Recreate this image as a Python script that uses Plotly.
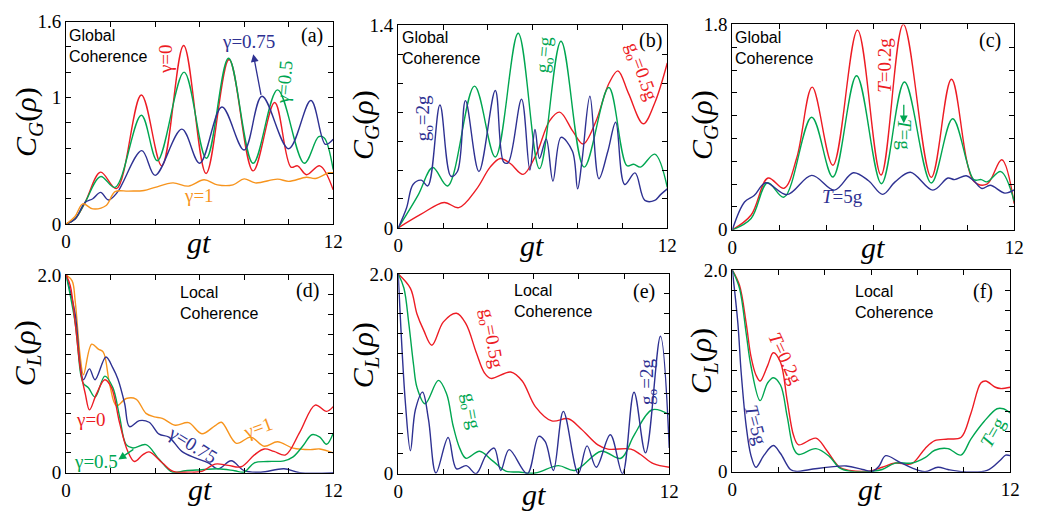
import plotly.graph_objects as go

RED = "#ED1C24"
GREEN = "#00A651"
BLUE = "#2E3192"
ORANGE = "#F7941D"

# ---------------- data ----------------
# (a) global coherence, gamma
a_red_x = [0, 0.4, 0.85, 1.55, 2.26, 3.38, 4.3, 5.28, 6.29, 7.32, 8.4, 9.37, 10.1, 10.4, 10.8, 11.4, 12]
a_red_y = [0, 0.04, 0.17, 0.41, 0.28, 1.02, 0.46, 1.41, 0.40, 1.30, 0.42, 0.96, 0.45, 0.46, 0.39, 0.46, 0.27]
a_green_x = [0, 0.4, 0.85, 1.55, 2.2, 3.38, 4.1, 5.3, 6.3, 7.3, 8.4, 9.5, 10.7, 11.35, 11.6, 12]
a_green_y = [0, 0.04, 0.17, 0.375, 0.29, 0.86, 0.50, 1.20, 0.52, 1.31, 0.48, 1.06, 0.48, 0.69, 0.68, 0.43]
a_blue_x = [0, 0.4, 0.85, 1.2, 1.55, 1.9, 2.3, 3.4, 4.0, 5.2, 6.0, 7.0, 8.0, 8.8, 10.0, 11.0, 11.65, 12]
a_blue_y = [0, 0.04, 0.17, 0.20, 0.25, 0.19, 0.25, 0.58, 0.385, 0.75, 0.48, 0.925, 0.585, 1.01, 0.595, 0.976, 0.63, 0.67]
a_orange_x = [0, 0.4, 0.75, 1.2, 1.8, 2.2, 2.8, 3.5, 4.0, 4.8, 5.5, 6.2, 6.8, 7.5, 8.0, 8.5, 9.5, 10.0, 10.8, 11.2, 11.8, 12]
a_orange_y = [0, 0.06, 0.16, 0.12, 0.147, 0.256, 0.26, 0.265, 0.29, 0.325, 0.30, 0.35, 0.31, 0.31, 0.357, 0.325, 0.355, 0.337, 0.37, 0.36, 0.405, 0.405]

# (b) global coherence, g_o
b_red_x = [0, 1.0, 2.05, 2.7, 3.5, 4.1, 4.55, 5.0, 5.57, 6.16, 6.75, 7.2, 7.8, 8.25, 8.8, 9.4, 9.8, 10.27, 10.93, 11.44, 12]
b_red_y = [0, 0.093, 0.176, 0.14, 0.27, 0.42, 0.48, 0.445, 0.37, 0.51, 0.74, 0.80, 0.665, 0.58, 0.73, 1.0, 1.085, 0.93, 0.72, 0.864, 1.14]
b_green_x = [0, 0.88, 1.54, 2.2, 3.4, 4.33, 5.35, 6.3, 7.26, 8.29, 9.39, 10.2, 10.5, 10.8, 11.44, 12]
b_green_y = [0, 0.225, 0.417, 0.29, 0.98, 0.49, 1.345, 0.41, 1.29, 0.42, 0.97, 0.43, 0.44, 0.42, 0.51, 0.28]
b_blue_x = [0, 0.37, 0.66, 1.03, 1.32, 1.86, 2.35, 2.64, 3.0, 3.6, 4.33, 4.7, 4.9, 5.5, 5.87, 6.1, 6.3, 6.6,
            6.9, 7.26, 7.77, 8.0, 8.2, 8.55, 8.95, 9.35, 9.7, 10.1, 10.56, 11.0, 11.44, 11.7, 12]
b_blue_y = [0, 0.137, 0.30, 0.33, 0.29, 0.85, 0.357, 0.39, 0.88, 0.39, 0.95, 0.456, 0.45, 0.89, 0.40, 0.68, 0.48, 0.615,
            0.324, 0.626, 0.53, 0.27, 0.47, 0.91, 0.34, 0.53, 0.73, 0.30, 0.38, 0.19, 0.19, 0.23, 0.27]

# (c) global coherence, T
c_red_x = [0, 0.8, 1.52, 2.2, 2.75, 3.4, 4.28, 5.33, 6.33, 7.28, 8.47, 9.33, 10.28, 10.84, 11.47, 12]
c_red_y = [0, 0.13, 0.454, 0.364, 0.636, 1.25, 0.566, 1.75, 0.48, 1.80, 0.46, 1.32, 0.426, 0.40, 0.614, 0.23]
c_green_x = [0, 0.8, 1.5, 2.2, 3.38, 4.28, 5.29, 6.35, 7.33, 8.47, 9.38, 10.28, 10.6, 10.84, 11.43, 12]
c_green_y = [0, 0.10, 0.412, 0.286, 0.987, 0.463, 1.35, 0.404, 1.295, 0.41, 0.973, 0.44, 0.44, 0.42, 0.51, 0.25]
c_blue_x = [0, 0.52, 0.93, 1.42, 2.33, 3.38, 4.35, 5.15, 5.8, 6.4, 6.93, 7.58, 8.54, 9.18, 9.46, 9.96, 10.28, 10.63, 10.98, 11.6, 12]
c_blue_y = [0, 0.244, 0.30, 0.412, 0.308, 0.477, 0.348, 0.50, 0.43, 0.311, 0.42, 0.505, 0.348, 0.454, 0.44, 0.474, 0.43, 0.362, 0.39, 0.322, 0.35]

# (d) local coherence, gamma
d_red_x = [0, 0.19, 0.41, 0.66, 0.86, 1.05, 1.37, 1.74, 2.04, 2.4, 2.77, 3.07, 3.44, 3.73, 4.32, 4.81, 5.5, 6.1,
           6.69, 7.28, 7.87, 8.46, 8.9, 9.34, 9.86, 10.5, 11.19, 11.7, 12]
d_red_y = [2.0, 1.89, 1.51, 1.02, 0.80, 0.635, 0.80, 0.94, 0.86, 0.506, 0.216, 0.113, 0.18, 0.21, 0.10, 0.013, 0.006, 0.013,
           0.087, 0.074, 0.06, 0.18, 0.24, 0.216, 0.18, 0.41, 0.684, 0.62, 0.668]
d_green_x = [0, 0.41, 0.66, 0.78, 1.0, 1.3, 1.74, 2.1, 2.4, 2.7, 3.0, 3.59, 4.18, 4.77, 5.36, 6.1, 6.83, 7.57, 8.0,
             8.46, 9.05, 9.79, 10.2, 10.67, 11.04, 11.4, 11.7, 12]
d_green_y = [2.0, 1.51, 0.99, 0.90, 0.86, 0.765, 0.977, 0.86, 0.57, 0.284, 0.25, 0.284, 0.135, 0.006, 0.02, 0.03, 0.04, 0.02, 0.006,
             0.10, 0.113, 0.12, 0.16, 0.28, 0.384, 0.36, 0.287, 0.40]
d_blue_x = [0, 0.41, 0.63, 0.78, 1.05, 1.3, 1.79, 2.1, 2.33, 2.63, 2.85, 3.29, 3.73, 4.18, 4.62, 5.2, 5.8, 6.39, 6.83,
            7.42, 8.0, 8.75, 9.79, 10.5, 12]
d_blue_y = [2.0, 1.60, 1.09, 0.94, 1.05, 0.94, 1.17, 1.06, 0.945, 0.70, 0.465, 0.526, 0.51, 0.39, 0.36, 0.216, 0.15, 0.10, 0.039,
            0.12, 0.02, 0.005, 0.04, 0.0, 0.0]
d_orange_x = [0, 0.27, 0.41, 0.63, 0.78, 1.15, 1.45, 1.67, 1.96, 2.26, 2.7, 3.14, 3.59, 3.96, 4.32, 4.9, 5.5, 6.1, 6.7,
              6.98, 7.65, 8.3, 8.9, 9.5, 10.2, 10.97, 11.4, 12]
d_orange_y = [2.0, 1.94, 1.73, 1.18, 0.99, 1.30, 1.25, 1.22, 0.89, 0.677, 0.75, 0.745, 0.60, 0.565, 0.55, 0.48, 0.506, 0.394, 0.477,
              0.51, 0.297, 0.36, 0.268, 0.313, 0.248, 0.233, 0.24, 0.20]

# (e) local coherence, g_o
e_red_x = [0, 0.54, 0.83, 1.12, 1.49, 2.0, 2.58, 3.0, 3.45, 3.82, 4.1, 4.98, 5.49, 6.07, 6.8, 7.53, 8.1, 8.84, 9.28,
           10.3, 10.73, 11.3, 12]
e_red_y = [2.0, 1.856, 1.60, 1.44, 1.286, 1.52, 1.606, 1.50, 1.216, 1.008, 0.954, 1.018, 0.928, 0.672, 0.528, 0.55, 0.448, 0.288, 0.246,
           0.246, 0.192, 0.10, 0.064]
e_green_x = [0, 0.25, 0.47, 0.68, 0.83, 1.19, 1.78, 2.14, 2.43, 2.72, 3.0, 3.6, 4.18, 4.76, 5.34, 6.07, 7.09, 7.82,
             8.99, 9.86, 10.44, 11.24, 12]
e_green_y = [2.0, 1.86, 1.50, 1.088, 0.864, 0.70, 0.934, 0.80, 0.48, 0.256, 0.154, 0.224, 0.128, 0.026, 0.016, 0.006, 0.08, 0.032,
             0.224, 0.154, 0.384, 0.64, 0.592]
e_blue_x = [0, 0.32, 0.54, 0.76, 1.08, 1.34, 1.67, 2.21, 2.58, 3.01, 3.45, 3.89, 4.25, 4.54, 4.91, 5.71, 6.22, 6.51,
            6.87, 7.31, 7.97, 8.36, 8.77, 9.39, 9.93, 10.44, 10.95, 11.61, 12]
e_blue_y = [2.0, 0.70, 0.23, 0.64, 0.816, 0.544, 0.006, 0.362, 0.048, 0.08, 0.0, 0.186, 0.256, 0.032, 0.24, 0.0, 0.374, 0.32,
            0.032, 0.624, 0.0, 0.278, 0.064, 0.39, 0.0, 0.816, 0.208, 1.376, 0.256]

# (f) local coherence, T
f_red_x = [0, 0.31, 0.6, 0.8, 1.02, 1.2, 1.52, 1.77, 2.08, 2.37, 2.65, 2.86, 3.61, 4.07, 4.63, 5.06, 5.9, 6.47, 7.04,
           7.75, 8.32, 8.74, 9.31, 9.87, 10.3, 10.73, 10.94, 11.36, 11.58, 12]
f_red_y = [2.0, 1.85, 1.47, 1.15, 0.96, 0.90, 1.05, 1.18, 1.086, 0.705, 0.356, 0.267, 0.333, 0.213, 0.044, 0.013, 0.006, 0.044, 0.086,
           0.08, 0.229, 0.308, 0.324, 0.34, 0.578, 0.88, 0.90, 0.838, 0.825, 0.838]
f_green_x = [0, 0.31, 0.6, 0.8, 1.2, 1.52, 1.77, 2.08, 2.37, 2.65, 2.86, 3.61, 4.2, 4.63, 5.06, 5.9, 6.47, 7.04, 7.75,
             8.32, 8.74, 9.31, 9.87, 10.3, 10.87, 11.43, 11.7, 12]
f_green_y = [2.0, 1.82, 1.37, 1.054, 0.705, 0.88, 0.933, 0.86, 0.546, 0.229, 0.171, 0.229, 0.149, 0.038, 0.006, 0.0, 0.022, 0.086, 0.086,
             0.14, 0.213, 0.229, 0.165, 0.324, 0.498, 0.625, 0.625, 0.584]
f_blue_x = [0, 0.24, 0.38, 0.6, 0.8, 1.02, 1.37, 1.77, 2.08, 2.51, 2.79, 3.36, 4.92, 5.62, 6.07, 6.33, 6.62, 7.18,
            7.75, 8.32, 8.88, 9.31, 10.0, 11.0, 11.58, 11.8, 12]
f_blue_y = [2.0, 1.47, 0.99, 0.45, 0.165, 0.044, 0.165, 0.26, 0.181, 0.022, 0.003, 0.022, 0.057, 0.022, 0.006, 0.054, 0.159, 0.10,
            0.038, 0.0, 0.044, 0.022, 0.0, 0.013, 0.117, 0.165, 0.159]

# tick labels
x_tick_vals = [0, 2, 4, 6, 8, 10, 12]
x_tick_text = ["0", " ", " ", " ", " ", " ", "12"]
y_max = {"a": 1.6, "b": 1.4, "c": 1.8, "d": 2.0, "e": 2.0, "f": 2.0}
y_labels = {"a": {0: "0", 1.0: "1", 1.6: "1.6"}, "b": {0: "0", 1.4: "1.4"}, "c": {0: "0", 1.8: "1.8"},
            "d": {0: "0", 2.0: "2.0"}, "e": {0: "0", 2.0: "2.0"}, "f": {0: "0", 2.0: "2.0"}}

# ---------------- layout geometry (pixels) ----------------
W, H = 1037, 524
boxes = {"a": (62, 333, 12, 223), "b": (399, 672, 16, 227), "c": (738, 1024, 15, 229),
         "d": (62, 333, 276, 482), "e": (399, 674, 275, 483), "f": (738, 1020, 271, 481)}
order = ["a", "b", "c", "d", "e", "f"]

SERIF = "Liberation Serif"
SANS = "Liberation Sans"

fig = go.Figure()
series = {
    "a": [(a_red_x, a_red_y, RED), (a_green_x, a_green_y, GREEN), (a_blue_x, a_blue_y, BLUE), (a_orange_x, a_orange_y, ORANGE)],
    "b": [(b_red_x, b_red_y, RED), (b_green_x, b_green_y, GREEN), (b_blue_x, b_blue_y, BLUE)],
    "c": [(c_red_x, c_red_y, RED), (c_green_x, c_green_y, GREEN), (c_blue_x, c_blue_y, BLUE)],
    "d": [(d_orange_x, d_orange_y, ORANGE), (d_blue_x, d_blue_y, BLUE), (d_green_x, d_green_y, GREEN), (d_red_x, d_red_y, RED)],
    "e": [(e_red_x, e_red_y, RED), (e_green_x, e_green_y, GREEN), (e_blue_x, e_blue_y, BLUE)],
    "f": [(f_red_x, f_red_y, RED), (f_green_x, f_green_y, GREEN), (f_blue_x, f_blue_y, BLUE)],
}

layout = dict(width=W, height=H, margin=dict(l=0, r=0, t=0, b=0), autosize=False,
              paper_bgcolor="white", plot_bgcolor="white", showlegend=False)
annotations = []

for i, k in enumerate(order):
    n = "" if i == 0 else str(i + 1)
    x0, x1, y0, y1 = boxes[k]
    for xs, ys, col in series[k]:
        fig.add_trace(go.Scatter(x=xs, y=ys, mode="lines", xaxis="x" + n, yaxis="y" + n,
                                 line=dict(color=col, width=1.4, shape="spline", smoothing=1.0),
                                 hoverinfo="skip", showlegend=False))
    ym = y_max[k]
    yv = [round(0.2 * j, 1) for j in range(int(round(ym / 0.2)) + 1)]
    yt = [y_labels[k].get(v, " ") for v in yv]
    common = dict(showline=True, linecolor="black", linewidth=1.2, mirror="allticks", ticks="inside",
                  ticklen=5, tickwidth=1, tickcolor="black", showgrid=False, zeroline=False,
                  tickfont=dict(family=SERIF, size=19, color="black"), fixedrange=True)
    layout["xaxis" + n] = dict(domain=[x0 / W, x1 / W], range=[0, 12], anchor="y" + n,
                               tickmode="array", tickvals=x_tick_vals, ticktext=x_tick_text, **common)
    layout["yaxis" + n] = dict(domain=[1 - y1 / H, 1 - y0 / H], range=[0, ym], anchor="x" + n,
                               tickmode="array", tickvals=yv, ticktext=yt, **common)

fig.update_layout(**layout)

def note(k, x, y, text, color="black", size=19, angle=0, family=SERIF, xanchor="center", yanchor="middle", align="center"):
    i = order.index(k)
    n = "" if i == 0 else str(i + 1)
    annotations.append(dict(x=x, y=y, xref="x" + n, yref="y" + n, text=text, showarrow=False,
                            textangle=angle, xanchor=xanchor, yanchor=yanchor, align=align,
                            font=dict(family=family, size=size, color=color)))

def arrow(k, x_tail, y_tail, x_head, y_head, color):
    i = order.index(k)
    n = "" if i == 0 else str(i + 1)
    annotations.append(dict(x=x_head, y=y_head, ax=x_tail, ay=y_tail, xref="x" + n, yref="y" + n,
                            axref="x" + n, ayref="y" + n, text="", showarrow=True, arrowhead=2,
                            arrowsize=1.2, arrowwidth=1.3, arrowcolor=color))

# panel captions (centre-anchored two-line blocks)
for k, (x, y) in zip(["a", "b", "c"], [(0.02, 1.407), (0.08, 1.241), (0.02, 1.59)]):
    note(k, x, y, "Global<br>Coherence", size=16, family=SANS, xanchor="left", yanchor="middle", align="left")
for k, (x, y) in zip(["d", "e", "f"], [(5.04, 1.714), (5.05, 1.726), (5.22, 1.681)]):
    note(k, x, y, "Local<br>Coherence", size=16, family=SANS, xanchor="left", yanchor="middle", align="left")
for k, (x, y) in zip(order, [(11.03, 1.486), (11.25, 1.294), (10.99, 1.657), (10.85, 1.845), (10.87, 1.827), (10.81, 1.79)]):
    note(k, x, y, "(" + k + ")", size=20)

# curve labels
note("a", 4.47, 1.30, "γ=0", RED, angle=-90)
note("a", 8.19, 1.44, "γ=0.75", BLUE)
note("a", 9.79, 1.12, "γ=0.5", GREEN, angle=-85)
note("a", 5.98, 0.227, "γ=1", ORANGE)
arrow("a", 8.77, 1.009, 8.41, 1.342, BLUE)

note("b", 1.14, 0.756, "g<sub>o</sub>=2g", BLUE, angle=-90)
note("b", 6.55, 1.194, "g<sub>o</sub>=g", GREEN, angle=-85)
note("b", 10.81, 1.075, "g<sub>o</sub>=0.5g", RED, angle=70)

note("c", 6.50, 1.438, "<i>T</i>=0.2g", RED, angle=-90)
note("c", 7.30, 0.833, "<i>T</i>=g", GREEN, angle=90)
note("c", 4.70, 0.294, "<i>T</i>=5g", BLUE)
arrow("c", 7.30, 1.11, 7.30, 0.934, GREEN)

note("d", 1.11, 0.534, "γ=0", RED)
note("d", 1.33, 0.117, "γ=0.5", GREEN)
note("d", 5.67, 0.282, "γ=0.75", BLUE, angle=32)
note("d", 8.63, 0.456, "γ=1", ORANGE, angle=-20)
arrow("d", 3.09, 0.246, 2.35, 0.133, GREEN)

note("e", 4.10, 1.346, "g<sub>o</sub>=0.5g", RED, angle=80)
note("e", 3.19, 0.625, "g<sub>o</sub>=g", GREEN, angle=80)
note("e", 11.08, 0.923, "g<sub>o</sub>=2g", BLUE, angle=-90)

note("f", 2.30, 1.124, "<i>T</i>=0.2g", RED, angle=65)
note("f", 11.23, 0.39, "<i>T</i>=g", GREEN, angle=-60)
note("f", 1.02, 0.457, "<i>T</i>=5g", BLUE, angle=75)

# axis titles (paper coordinates)
ytitles = [(24, 117, "G"), (365, 120, "G"), (709, 120, "G"), (22, 358, "L"), (365, 360, "L"), (709, 366, "L")]
for px, py, s in ytitles:
    annotations.append(dict(x=px / W, y=1 - py / H, xref="paper", yref="paper", showarrow=False, textangle=-90,
                            text="<i>C</i><sub><i>" + s + "</i></sub>(<i>ρ</i>)",
                            font=dict(family=SERIF, size=30, color="black"), xanchor="center", yanchor="middle"))
xtitles = [(197, 242), (535, 245), (881, 247), (198, 500), (537, 505), (878, 500)]
for px, py in xtitles:
    annotations.append(dict(x=px / W, y=1 - py / H, xref="paper", yref="paper", showarrow=False,
                            text="<i>gt</i>", font=dict(family=SERIF, size=30, color="black"),
                            xanchor="center", yanchor="middle"))

fig.update_layout(annotations=annotations)
fig.write_html("out.html")
